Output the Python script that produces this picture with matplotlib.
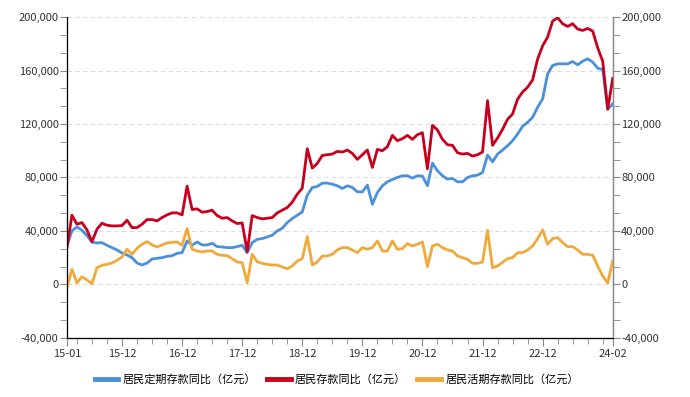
import matplotlib.pyplot as plt
import matplotlib.ticker as mticker
import numpy as np

plt.rcParams['font.family'] = ['Noto Sans CJK SC', 'DejaVu Sans']

# monthly, 2015-01 .. 2024-02 (unit: 亿元)
months = [f"{y % 100:02d}-{m:02d}" for y in range(2015, 2025) for m in range(1, 13)][:110]

total = [27500, 51750, 45000, 46250, 40750, 32000, 41250, 45750, 44250, 43750,
         43750, 44000, 48000, 42500, 42500, 45000, 48500, 48500, 47500, 50000,
         52000, 53500, 53500, 52000, 73500, 56000, 56500, 54000, 54500, 55500,
         51500, 49500, 50000, 47500, 45500, 46000, 24500, 51500, 50000, 49000,
         49500, 50000, 53500, 55500, 57500, 61500, 67500, 72000, 101500, 87000,
         90500, 96500, 97000, 97500, 99500, 99000, 100500, 98000, 93500, 97000,
         100500, 87500, 101000, 100000, 103000, 111500, 107500, 109000, 111500, 108500,
         112000, 113500, 86500, 119000, 115500, 108500, 104500, 104000, 98500, 97500,
         98000, 96000, 97000, 99000, 137500, 104000, 109500, 116000, 123500, 127500,
         138500, 144000, 147500, 153000, 168500, 178500, 185000, 197000, 199500, 195000,
         193000, 195000, 191000, 190000, 191500, 189500, 177000, 167000, 131000, 154000]

time_dep = [29000, 40000, 43000, 40500, 36500, 31500, 31000, 31250, 29250, 27500,
            25750, 23500, 22000, 20000, 16000, 14500, 16000, 19000, 19500, 20000,
            21000, 21500, 23250, 23750, 32500, 29250, 31750, 29500, 29500, 30750,
            28250, 28000, 27500, 27500, 28250, 29250, 23750, 31250, 33750, 34250,
            35500, 36750, 40000, 42000, 46250, 49250, 51750, 54250, 66750, 72500,
            73250, 75750, 75750, 75000, 73750, 71750, 73750, 72500, 69250, 69250,
            74250, 60000, 68750, 73750, 76750, 78500, 80000, 81250, 81250, 79500,
            81250, 81000, 73750, 90750, 85000, 81250, 78750, 79250, 76750, 76750,
            80000, 81250, 81750, 83750, 96750, 91750, 97500, 100500, 103750, 107500,
            112500, 118250, 121250, 125000, 132500, 138750, 157500, 163750, 165000, 165000,
            165000, 166750, 164250, 167000, 168750, 166250, 161750, 160750, 131250, 135000]

demand = [-2500, 11250, 1250, 5750, 3250, 500, 12500, 14250, 15000, 16000,
          18000, 20500, 26250, 22500, 27000, 30000, 32000, 29500, 28000, 29500,
          31000, 31500, 31750, 29250, 41750, 26250, 25000, 24250, 25000, 25000,
          22500, 21750, 21500, 19250, 16750, 16250, 1250, 22500, 17000, 15750,
          15000, 14500, 14500, 13000, 11750, 13750, 17500, 19250, 35750, 14500,
          16750, 21250, 21250, 22500, 25750, 27500, 27500, 25750, 23750, 27500,
          26250, 27500, 32500, 25000, 25000, 32500, 26250, 26750, 30500, 28750,
          30000, 31750, 13250, 28750, 30000, 27500, 25750, 25000, 21250, 20000,
          18750, 15750, 15750, 16750, 40500, 12500, 13750, 16500, 19250, 20000,
          23750, 23750, 25750, 28750, 34250, 40750, 30000, 34250, 35000, 31250,
          28250, 28250, 25750, 22500, 22500, 21750, 13750, 6250, 1000, 17500]

tick_idx = [0, 11, 23, 35, 47, 59, 71, 83, 95, 109]

x = np.arange(len(months))
gray = '#888888'

fig = plt.figure(figsize=(6.9, 3.97), dpi=100)
ax = fig.add_axes([0.097, 0.149, 0.791, 0.808])

ax.plot(x, time_dep, color='#4A90DC', lw=2, label='居民定期存款同比（亿元）', zorder=3)
ax.plot(x, total, color='#C8001E', lw=2, label='居民存款同比（亿元）', zorder=4)
ax.plot(x, demand, color='#F2A93B', lw=2, label='居民活期存款同比（亿元）', zorder=3)

ax.set_xlim(0, 109)
ax.set_ylim(-40000, 200000)
ax.yaxis.set_major_locator(mticker.MultipleLocator(40000))
ax.yaxis.set_minor_locator(mticker.MultipleLocator(40000 / 3))
ax.yaxis.set_major_formatter(mticker.FuncFormatter(lambda v, p: f"{int(v):,}"))
ax.grid(axis='y', color='#dddddd', ls=(0, (4, 3)), lw=0.8)
ax.set_axisbelow(True)

ax.set_xticks(tick_idx)
ax.set_xticklabels([months[i] for i in tick_idx])
ax.set_xticks(np.arange(2, 109, 3), minor=True)

ax.spines['top'].set_visible(False)
for s in ['left', 'right', 'bottom']:
    ax.spines[s].set_color(gray)
    ax.spines[s].set_linewidth(1)

ax.tick_params(axis='both', which='both', colors=gray, labelcolor='#333333', labelsize=8)
ax.tick_params(axis='x', which='major', length=6, pad=2)
ax.tick_params(axis='x', which='minor', length=4)
ax.tick_params(axis='y', which='major', length=5, pad=1)
ax.tick_params(axis='y', which='minor', length=5)

ax2 = ax.twinx()
ax2.set_ylim(ax.get_ylim())
ax2.yaxis.set_major_locator(mticker.MultipleLocator(40000))
ax2.yaxis.set_minor_locator(mticker.MultipleLocator(40000 / 3))
ax2.yaxis.set_major_formatter(mticker.FuncFormatter(lambda v, p: f"{int(v):,}"))
ax2.spines['top'].set_visible(False)
ax2.spines['right'].set_color(gray)
ax2.tick_params(axis='y', which='both', colors=gray, labelcolor='#333333', labelsize=8, length=5, pad=1)

fig.legend(loc='center', bbox_to_anchor=(0.488, 0.045), ncol=3, frameon=False,
           fontsize=8, handlelength=2.1, columnspacing=1.0, handletextpad=0.4)
for line in fig.legends[0].get_lines():
    line.set_linewidth(3.5)

fig.savefig('out.png', dpi=100)
